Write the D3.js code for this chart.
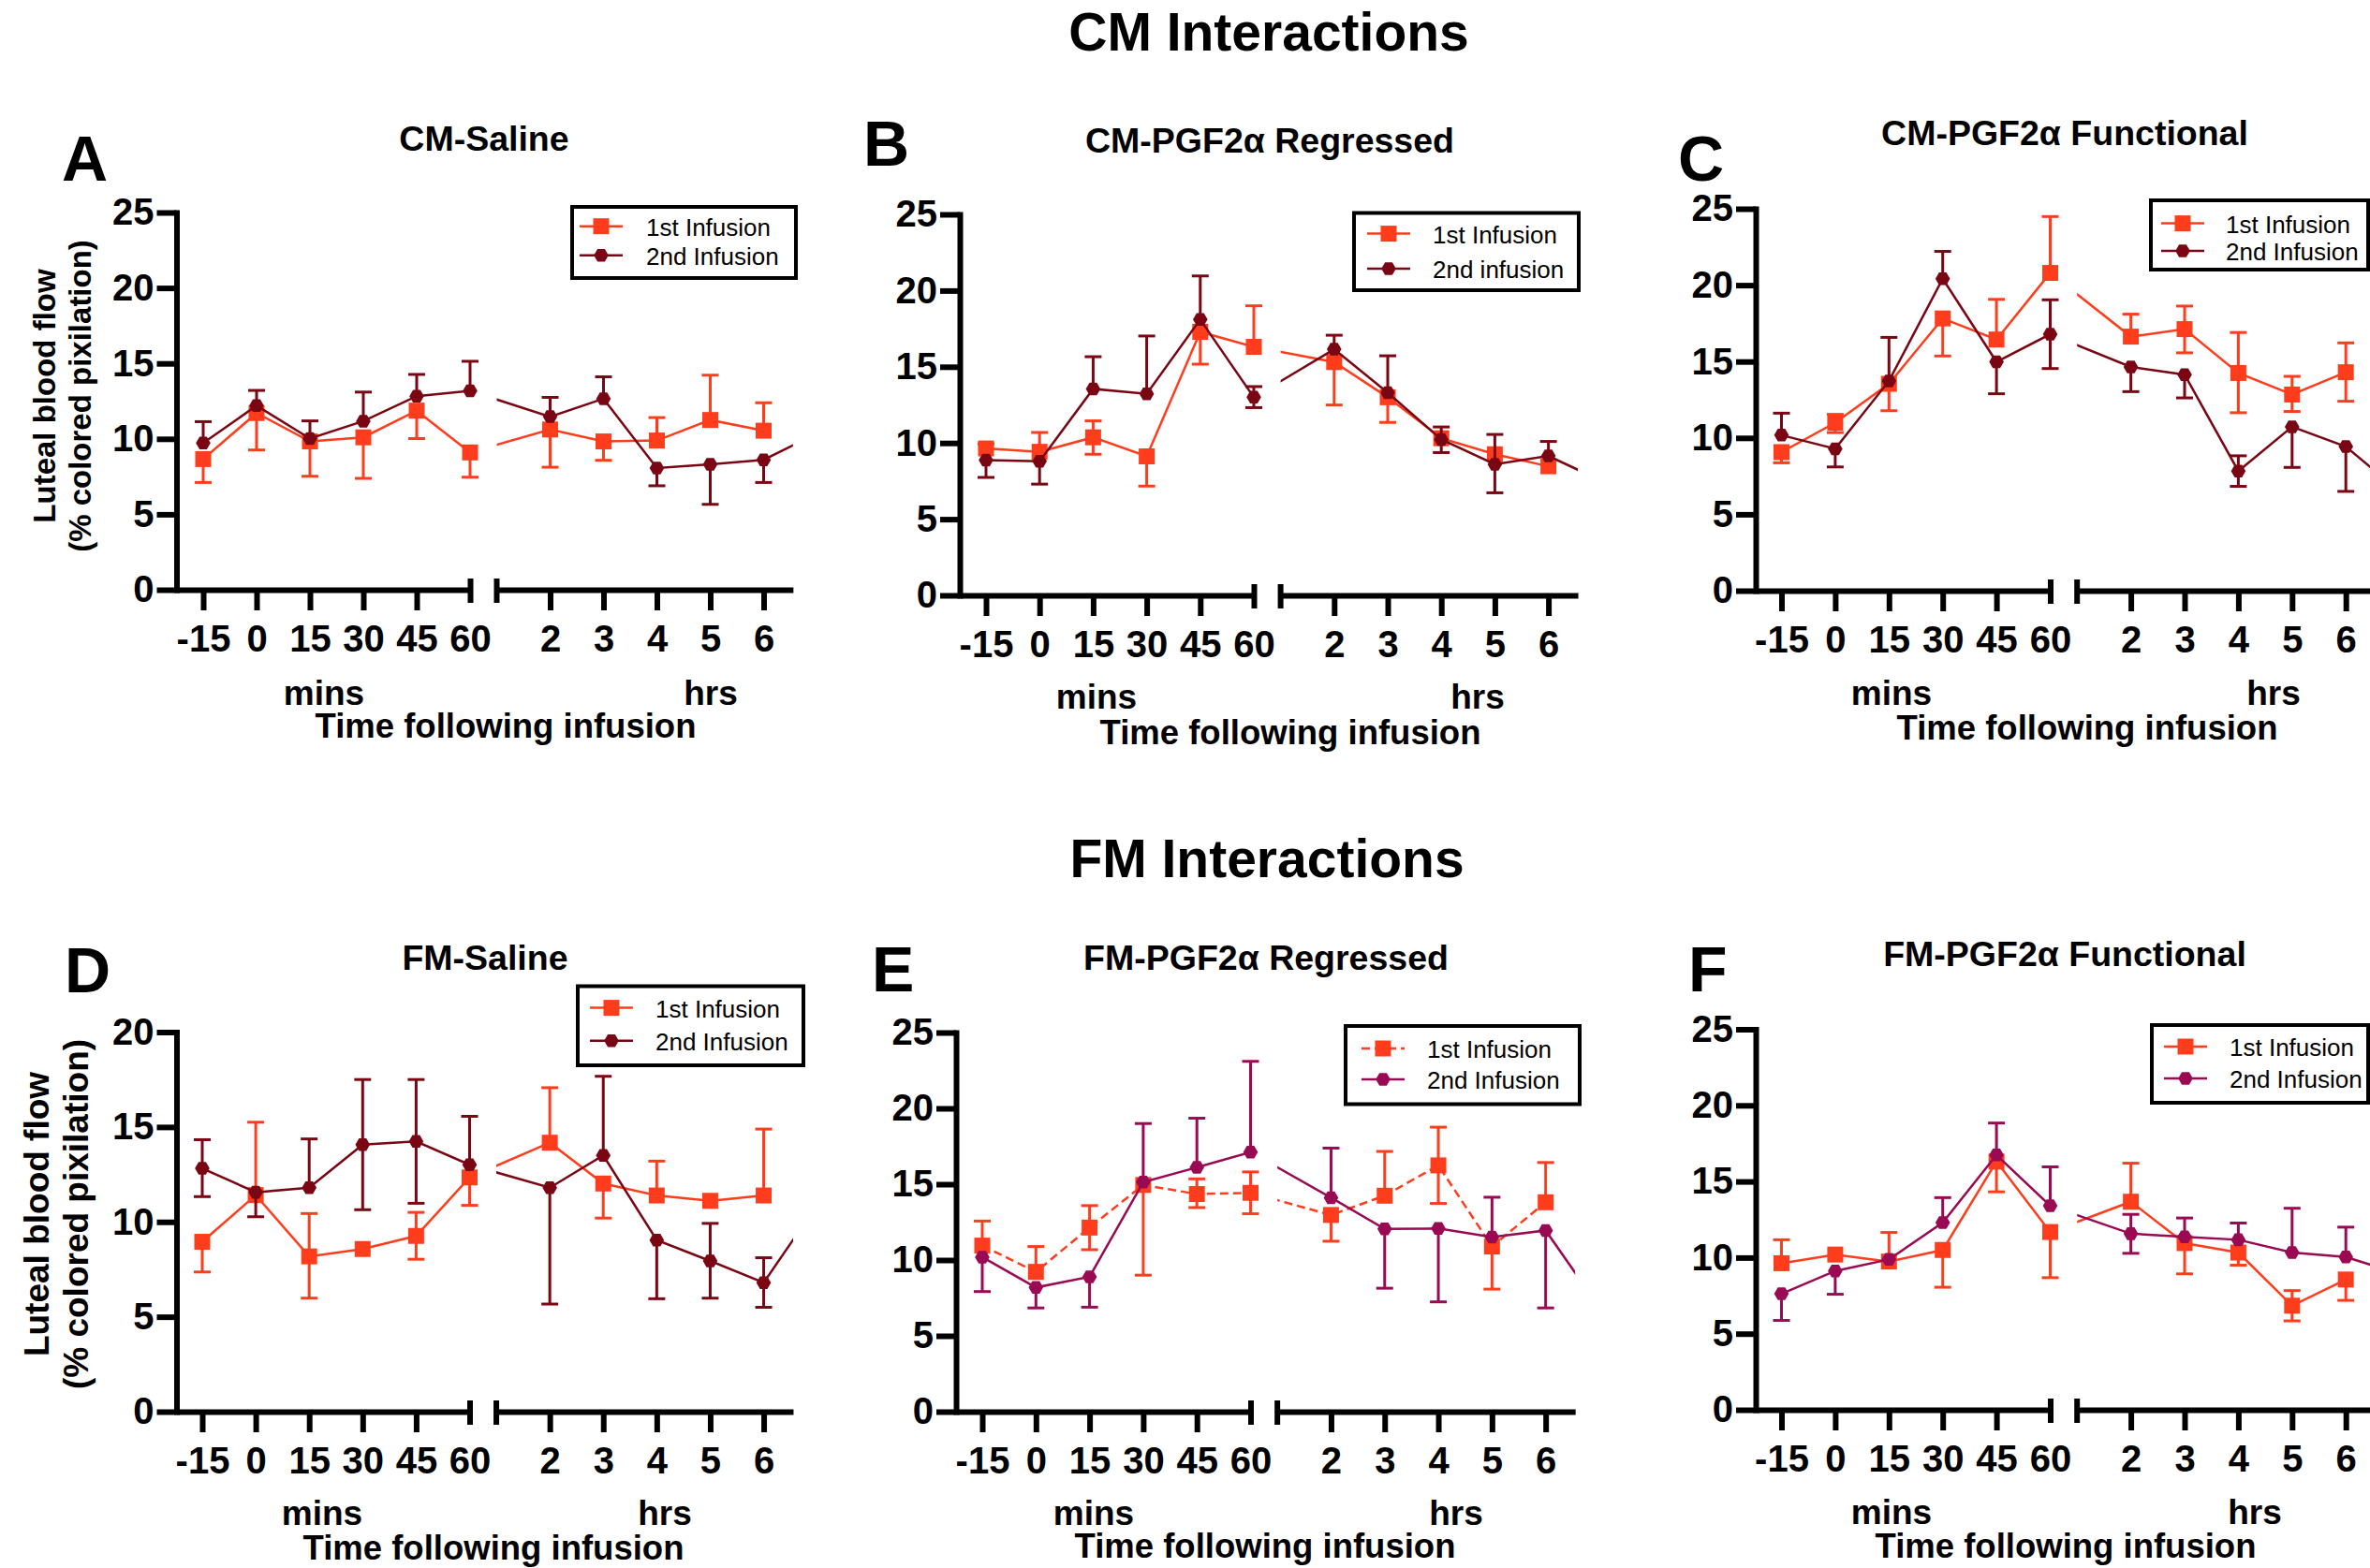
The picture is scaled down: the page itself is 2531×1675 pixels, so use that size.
<!DOCTYPE html>
<html>
<head>
<meta charset="utf-8">
<script src="https://cdn.jsdelivr.net/npm/d3@7"></script>
<style>
  body { margin: 0; background: #fff; }
  text { font-family: "Liberation Sans", Arial, Helvetica, sans-serif; }
</style>
</head>
<body>
<div id="chart"></div>
<script>
// time points on the broken x axis
let minTicks = [-15, 0, 15, 30, 45, 60]
let hrTicks = [2, 3, 4, 5, 6]
let hrTimes = [2, 3, 4, 5, 6, 7]   // 7 h point of 2nd infusion sits past the axis end

// values (% colored pixilation), error bars as [below, above]
let A_first = [8.66, 11.71, 9.83, 10.1, 11.87, 9.1, 10.62, 9.83, 9.89, 11.25, 10.54]
let A_firstErr = [[1.55, 0], [2.45, 0], [2.31, 0], [2.72, 0], [1.85, 0], [1.64, 0], [2.5, 0], [1.25, 0], [0, 1.52], [0, 2.97], [0, 1.85]]
let A_second = [9.72, 12.2, 10.02, 11.17, 12.83, 13.18, 11.47, 12.66, 8.06, 8.31, 8.61, 10.35]
let A_secondErr = [[0, 1.42], [0, 1.01], [0, 1.17], [0, 1.93], [0, 1.44], [0, 1.96], [0, 1.28], [0, 1.45], [1.17, 0], [2.65, 0], [1.5, 0]]

let B_first = [9.64, 9.42, 10.37, 9.12, 17.29, 16.31, 15.31, 13.0, 10.31, 9.26, 8.47]
let B_firstErr = [[0, 0.3], [0, 1.27], [1.11, 1.08], [1.95, 0], [2.12, 0], [0, 2.69], [2.82, 0], [1.65, 0], [0, 0], [0, 0], [0, 0]]
let B_second = [8.88, 8.8, 13.55, 13.22, 18.1, 13.0, 16.15, 13.3, 10.23, 8.6, 9.15, 7.5]
let B_secondErr = [[1.14, 0], [1.5, 0], [0, 2.11], [0, 3.8], [0, 2.86], [0.68, 0.7], [0, 0.92], [0, 2.42], [0.86, 0.82], [1.87, 1.96], [0, 0.95]]

let C_first = [9.07, 11.0, 13.54, 17.82, 16.44, 20.8, 16.63, 17.12, 14.25, 12.84, 14.3]
let C_firstErr = [[0.7, 0], [0.65, 0.54], [1.76, 0], [2.46, 0], [0, 2.63], [0, 3.69], [0, 1.47], [1.55, 1.51], [2.6, 2.65], [1.11, 1.19], [1.9, 1.92]]
let C_second = [10.18, 9.29, 13.73, 20.42, 14.98, 16.79, 14.65, 14.14, 7.83, 10.73, 9.43, 6.5]
let C_secondErr = [[0, 1.44], [1.19, 0], [0, 2.85], [0, 1.79], [2.09, 0], [2.25, 2.25], [1.62, 0], [1.52, 0], [1.0, 1.0], [2.66, 0], [2.93, 0]]

let D_first = [8.95, 11.41, 8.18, 8.57, 9.26, 12.34, 14.17, 12.02, 11.39, 11.11, 11.39]
let D_firstErr = [[1.59, 0], [0, 3.84], [2.2, 2.26], [0, 0], [1.23, 1.24], [1.47, 0], [0, 2.9], [1.82, 0], [0, 1.81], [0, 0], [0, 3.5]]
let D_second = [12.82, 11.56, 11.8, 14.07, 14.24, 13.01, 11.8, 13.5, 9.04, 7.94, 6.8, 10.9]
let D_secondErr = [[1.49, 1.51], [1.29, 0], [0, 2.57], [3.43, 3.43], [3.26, 3.26], [0, 2.55], [6.13, 0], [0, 4.17], [3.09, 0], [1.96, 1.98], [1.3, 1.31]]

let E_first = [10.95, 9.22, 12.14, 14.95, 14.35, 14.43, 12.97, 14.24, 16.24, 10.89, 13.81]
let E_firstErr = [[0, 1.62], [0, 1.67], [1.46, 1.45], [5.95, 0], [0.89, 1.0], [1.38, 1.38], [1.73, 0], [0, 2.92], [2.51, 2.52], [2.81, 0], [0, 2.62]]
let E_second = [10.19, 8.19, 8.89, 15.14, 16.11, 17.11, 14.11, 12.05, 12.08, 11.51, 11.95, 6.88]
let E_secondErr = [[2.27, 0], [1.35, 0], [2.0, 0], [0, 3.86], [0, 3.24], [0, 5.99], [0, 3.27], [3.91, 0], [4.84, 0], [0, 2.63], [5.11, 0]]

let F_first = [9.63, 10.2, 9.74, 10.5, 16.31, 11.68, 13.67, 10.95, 10.33, 6.84, 8.56]
let F_firstErr = [[0, 1.54], [0, 0], [0, 1.91], [2.45, 0], [1.99, 0], [3.0, 0], [0, 2.53], [2.02, 0], [0.83, 0], [1.0, 0.99], [1.37, 0]]
let F_second = [7.62, 9.12, 9.88, 12.3, 16.74, 13.4, 11.57, 11.36, 11.17, 10.33, 10.04, 8.92]
let F_secondErr = [[1.75, 0], [1.53, 0], [0, 0], [0, 1.64], [0, 2.1], [0, 2.56], [1.29, 1.27], [0, 1.24], [0, 1.1], [0, 2.91], [0, 1.96]]

let orange = "#ff3d1c"
let maroon = "#7b0613"
let plum = "#9a0a52"

let W = 2531, H = 1675

let svg = d3.select("#chart").append("svg")
    .attr("width", W)
    .attr("height", H)
    .style("background-color", "white")

let defs = svg.append("defs")

// section headings
svg.append("text")
    .attr("x", 1355).attr("y", 54)
    .attr("text-anchor", "middle")
    .attr("font-size", 57).attr("font-weight", "bold")
    .text("CM Interactions")

svg.append("text")
    .attr("x", 1353).attr("y", 937)
    .attr("text-anchor", "middle")
    .attr("font-size", 57).attr("font-weight", "bold")
    .text("FM Interactions")

// panel layout (pixels) + which data goes where
let panels = [
    {letter: "A", title: "CM-Saline", first: A_first, firstErr: A_firstErr, second: A_second, secondErr: A_secondErr,
     yMax: 25, color2: maroon, dash1: null, label2: "2nd Infusion", yTitle: 33,
     axisX: 188.5, x0: 217, step: 57.0, y0: 630, yTop: 227,
     letterPos: [66, 193], titlePos: [517, 161], minsPos: [346, 753], hrsPos: [759, 753], xTitlePos: [540, 788], yTitleX: [59, 97], yTitleY: 423,
     legend: {x1: 611, y1: 221, x2: 850, y2: 297, mx: 642, r1: 241.7, r2: 272.7, tx: 690}},
    {letter: "B", title: "CM-PGF2α Regressed", first: B_first, firstErr: B_firstErr, second: B_second, secondErr: B_secondErr,
     yMax: 25, color2: maroon, dash1: null, label2: "2nd infusion", yTitle: 0,
     axisX: 1025, x0: 1053, step: 57.2, y0: 636, yTop: 229,
     letterPos: [922, 177], titlePos: [1356, 163], minsPos: [1171, 757], hrsPos: [1578, 757], xTitlePos: [1378, 795],
     legend: {x1: 1446, y1: 227.5, x2: 1686, y2: 310, mx: 1483, r1: 249.6, r2: 287, tx: 1530}},
    {letter: "C", title: "CM-PGF2α Functional", first: C_first, firstErr: C_firstErr, second: C_second, secondErr: C_secondErr,
     yMax: 25, color2: maroon, dash1: null, label2: "2nd Infusion", yTitle: 0,
     axisX: 1875, x0: 1902.5, step: 57.4, y0: 631, yTop: 223,
     letterPos: [1792, 193], titlePos: [2205, 155], minsPos: [2020, 753], hrsPos: [2428, 753], xTitlePos: [2229, 790],
     legend: {x1: 2297, y1: 214, x2: 2529, y2: 288, mx: 2331, r1: 238.6, r2: 268, tx: 2377}},
    {letter: "D", title: "FM-Saline", first: D_first, firstErr: D_firstErr, second: D_second, secondErr: D_secondErr,
     yMax: 20, color2: maroon, dash1: null, label2: "2nd Infusion", yTitle: 37,
     axisX: 188.5, x0: 216, step: 57.1, y0: 1508, yTop: 1102.5,
     letterPos: [69, 1060], titlePos: [518, 1036], minsPos: [344, 1629], hrsPos: [710, 1629], xTitlePos: [527, 1666], yTitleX: [52, 94], yTitleY: 1297,
     legend: {x1: 617, y1: 1053.5, x2: 858, y2: 1138, mx: 653, r1: 1076.6, r2: 1111.7, tx: 700}},
    {letter: "E", title: "FM-PGF2α Regressed", first: E_first, firstErr: E_firstErr, second: E_second, secondErr: E_secondErr,
     yMax: 25, color2: plum, dash1: "9,5", label2: "2nd Infusion", yTitle: 0,
     axisX: 1021, x0: 1049, step: 57.3, y0: 1508, yTop: 1103,
     letterPos: [931, 1059], titlePos: [1352, 1036], minsPos: [1168, 1629], hrsPos: [1555, 1629], xTitlePos: [1351, 1664],
     legend: {x1: 1437, y1: 1096, x2: 1687, y2: 1179.5, mx: 1477, r1: 1120, r2: 1153, tx: 1524}},
    {letter: "F", title: "FM-PGF2α Functional", first: F_first, firstErr: F_firstErr, second: F_second, secondErr: F_secondErr,
     yMax: 25, color2: plum, dash1: null, label2: "2nd Infusion", yTitle: 0,
     axisX: 1875, x0: 1902.5, step: 57.4, y0: 1506, yTop: 1099.5,
     letterPos: [1803, 1059], titlePos: [2205, 1032], minsPos: [2020, 1628], hrsPos: [2408, 1628], xTitlePos: [2206, 1664],
     legend: {x1: 2298, y1: 1095, x2: 2529, y2: 1178, mx: 2334, r1: 1118, r2: 1152, tx: 2381}}
]

// markers
let hexPath = d3.line().curve(d3.curveLinearClosed)(d3.range(6).map(k => [7.8 * Math.cos(k * Math.PI / 3), 7.8 * Math.sin(k * Math.PI / 3)]))
let squarePath = d3.symbol().type(d3.symbolSquare).size(17 * 17)()

let bold = (sel, size) => sel.attr("font-size", size).attr("font-weight", "bold").attr("fill", "black")
let plain = d => String(d)   // "-15" with a hyphen, "2" not "2.0"

panels.forEach((p, pi) => {
    let g = svg.append("g")

    let y = d3.scaleLinear().domain([0, p.yMax]).range([p.y0, p.yTop])
    let mx = d3.scaleLinear().domain([-15, 60]).range([p.x0, p.x0 + 5 * p.step])
    let hx = d3.scaleLinear().domain([2, 6]).range([p.x0 + 6.5 * p.step, p.x0 + 10.5 * p.step])
    let xAt = i => i < minTicks.length ? mx(minTicks[i]) : hx(hrTimes[i - minTicks.length])

    let seg1End = mx(60)
    let seg2Start = hx(1)
    let seg2End = hx(6.55)

    // clip lines to the two axis segments
    let c1 = "clipL" + pi, c2 = "clipR" + pi
    defs.append("clipPath").attr("id", c1).append("rect")
        .attr("x", p.axisX).attr("y", 0).attr("width", seg1End - p.axisX).attr("height", H)
    defs.append("clipPath").attr("id", c2).append("rect")
        .attr("x", seg2Start).attr("y", 0).attr("width", seg2End - seg2Start).attr("height", H)

    // y axis
    let yAxis = g.append("g")
        .attr("transform", `translate(${p.axisX},0)`)
        .call(d3.axisLeft(y).tickValues(d3.range(0, p.yMax + 1, 5)).tickFormat(plain).tickSize(21).tickSizeOuter(0).tickPadding(3))
    yAxis.select(".domain").attr("stroke-width", 6).attr("stroke-linecap", "square")
    yAxis.selectAll(".tick line").attr("stroke-width", 6)
    yAxis.selectAll(".tick text").call(bold, 40).attr("font-family", null)

    // x axis, minutes part
    let mAxisScale = mx.copy().domain([mx.invert(p.axisX), 60]).range([p.axisX, seg1End])
    let xm = g.append("g")
        .attr("transform", `translate(0,${p.y0})`)
        .call(d3.axisBottom(mAxisScale).tickValues(minTicks).tickFormat(plain).tickSize(22).tickSizeOuter(0))
    // x axis, hours part
    let hAxisScale = hx.copy().domain([1, 6.55]).range([seg2Start, seg2End])
    let xh = g.append("g")
        .attr("transform", `translate(0,${p.y0})`)
        .call(d3.axisBottom(hAxisScale).tickValues(hrTicks).tickFormat(plain).tickSize(22).tickSizeOuter(0))

    ;[xm, xh].forEach(ax => {
        ax.select(".domain").attr("stroke-width", 6)
        ax.selectAll(".tick line").attr("stroke-width", 6)
        ax.selectAll(".tick text").call(bold, 40).attr("font-family", null).attr("y", 66).attr("dy", 0)
    })
    xm.selectAll(".tick").filter(d => d === 60).select("line").attr("y1", -12).attr("y2", 14)

    // break cap at start of hours part
    g.append("line")
        .attr("x1", seg2Start).attr("x2", seg2Start)
        .attr("y1", p.y0 - 12).attr("y2", p.y0 + 14)
        .attr("stroke", "black").attr("stroke-width", 6)

    // series
    let series = [
        {vals: p.first, err: p.firstErr, color: orange, shape: squarePath, dash: p.dash1},
        {vals: p.second, err: p.secondErr, color: p.color2, shape: hexPath, dash: null}
    ]

    series.forEach(s => {
        let pts = s.vals.map((v, i) => [xAt(i), y(v)])
        ;[c1, c2].forEach(c => {
            g.append("path")
                .attr("d", d3.line()(pts))
                .attr("clip-path", `url(#${c})`)
                .attr("fill", "none")
                .attr("stroke", s.color)
                .attr("stroke-width", 2.5)
                .attr("stroke-dasharray", s.dash)
        })

        let bars = s.err.map((e, i) => ({x: xAt(i), v: s.vals[i], lo: e[0], hi: e[1]}))
            .filter(d => d.lo > 0 || d.hi > 0)

        g.selectAll(null)
            .data(bars)
            .join("line")
            .attr("x1", d => d.x).attr("x2", d => d.x)
            .attr("y1", d => y(d.v - d.lo)).attr("y2", d => y(d.v + d.hi))
            .attr("stroke", s.color).attr("stroke-width", 3)

        let caps = []
        bars.forEach(d => {
            if (d.lo > 0) caps.push({x: d.x, v: d.v - d.lo})
            if (d.hi > 0) caps.push({x: d.x, v: d.v + d.hi})
        })
        g.selectAll(null)
            .data(caps)
            .join("line")
            .attr("x1", d => d.x - 9).attr("x2", d => d.x + 9)
            .attr("y1", d => y(d.v)).attr("y2", d => y(d.v))
            .attr("stroke", s.color).attr("stroke-width", 3)

        g.selectAll(null)
            .data(s.vals.slice(0, minTicks.length + hrTicks.length))
            .join("path")
            .attr("d", s.shape)
            .attr("transform", (d, i) => `translate(${xAt(i)},${y(d)})`)
            .attr("fill", s.color)
    })

    // legend
    let L = p.legend
    g.append("rect")
        .attr("x", L.x1).attr("y", L.y1)
        .attr("width", L.x2 - L.x1).attr("height", L.y2 - L.y1)
        .attr("fill", "white").attr("stroke", "black").attr("stroke-width", 4)

    let legItems = [
        {label: "1st Infusion", color: orange, shape: squarePath, dash: p.dash1, ry: L.r1},
        {label: p.label2, color: p.color2, shape: hexPath, dash: null, ry: L.r2}
    ]
    legItems.forEach(it => {
        g.append("line")
            .attr("x1", L.mx - 23).attr("x2", L.mx + 23)
            .attr("y1", it.ry).attr("y2", it.ry)
            .attr("stroke", it.color).attr("stroke-width", 2.5)
            .attr("stroke-dasharray", it.dash)
        g.append("path")
            .attr("d", it.shape)
            .attr("transform", `translate(${L.mx},${it.ry})`)
            .attr("fill", it.color)
        g.append("text")
            .attr("x", L.tx).attr("y", it.ry + 10)
            .attr("font-size", 26)
            .text(it.label)
    })

    // labels
    g.append("text")
        .attr("x", p.letterPos[0]).attr("y", p.letterPos[1])
        .call(bold, 68)
        .text(p.letter)

    g.append("text")
        .attr("x", p.titlePos[0]).attr("y", p.titlePos[1])
        .attr("text-anchor", "middle")
        .call(bold, 37.5)
        .text(p.title)

    g.append("text")
        .attr("x", p.minsPos[0]).attr("y", p.minsPos[1])
        .attr("text-anchor", "middle")
        .call(bold, 37)
        .text("mins")

    g.append("text")
        .attr("x", p.hrsPos[0]).attr("y", p.hrsPos[1])
        .attr("text-anchor", "middle")
        .call(bold, 37)
        .text("hrs")

    g.append("text")
        .attr("x", p.xTitlePos[0]).attr("y", p.xTitlePos[1])
        .attr("text-anchor", "middle")
        .call(bold, 36.5)
        .text("Time following infusion")

    if (p.yTitle) {
        ;["Luteal blood flow", "(% colored pixilation)"].forEach((t, k) => {
            g.append("text")
                .attr("transform", `translate(${p.yTitleX[k]},${p.yTitleY}) rotate(-90)`)
                .attr("text-anchor", "middle")
                .call(bold, p.yTitle)
                .text(t)
        })
    }
})
</script>
</body>
</html>
